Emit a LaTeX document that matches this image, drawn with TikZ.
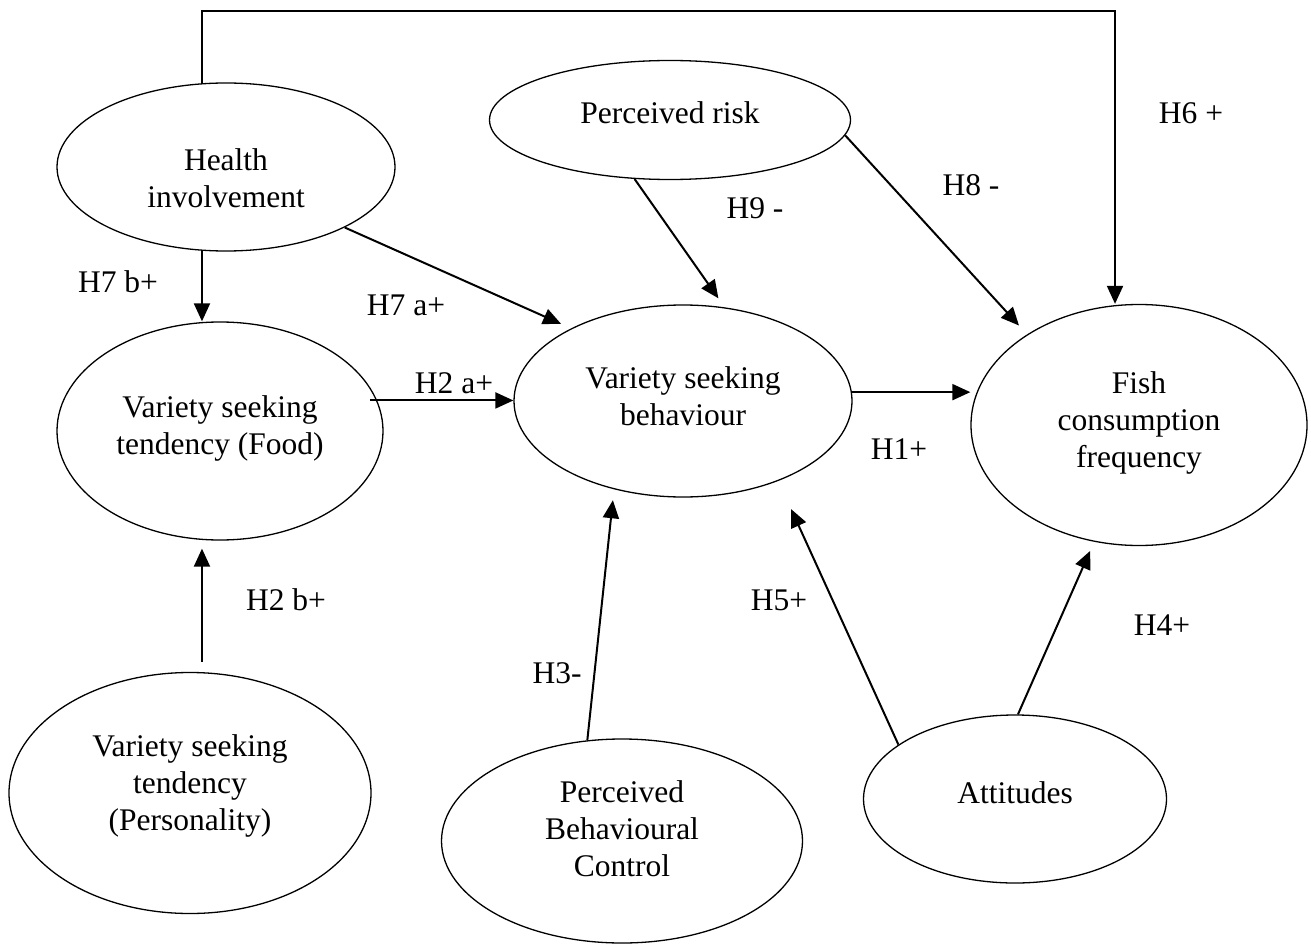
\documentclass[tikz,border=0pt]{standalone}
\usepackage{fontspec}
\setmainfont{Liberation Serif}
\usetikzlibrary{shapes.geometric,arrows.meta}

\begin{document}
\begin{tikzpicture}[
        x=1pt, y=-1pt,
        every node/.style={
            align=center,
            font=\fontsize{31.5}{37}\selectfont,
            inner sep=0pt
        },
        construct/.style 2 args={
            ellipse,
            draw,
            line width=1.3pt,
            minimum width=#1pt,
            minimum height=#2pt
        },
        arrow/.style={
            -{Triangle[length=18pt,width=16pt]},
            line width=2pt
        }
    ]
    \useasboundingbox (0,0) rectangle (1311,944);

    % Constructs
    \node (hi) [construct={338}{168}, label={[yshift=-11pt]center:Health\\involvement}] at (226,167) {};
    \node (pr) [construct={361}{119}, label={[yshift=7pt]center:Perceived risk}] at (670,120) {};
    \node (food) [construct={326}{218}, label={[yshift=3pt]center:Variety seeking\\tendency (Food)}] at (220,431) {};
    \node (vsb) [construct={338}{192}, label={[yshift=5pt]center:Variety seeking\\behaviour}] at (683,401) {};
    \node (fish) [construct={336}{241}, label={[yshift=2pt]center:Fish\\consumption\\frequency}] at (1139,425) {};
    \node (pers) [construct={362}{241}, label={[yshift=7pt]center:Variety seeking\\tendency\\(Personality)}] at (190,793) {};
    \node (pbc) [construct={361}{204}, label={[yshift=12pt]center:Perceived\\Behavioural\\Control}] at (622,841) {};
    \node (att) [construct={303}{168}, label={[yshift=6pt]center:Attitudes}] at (1015,799) {};

    % Hypothesis labels
    \node (h6) at (1191,113) {H6 +};
    \node (h8) at (971,185) {H8 -};
    \node (h9) at (755,208) {H9 -};
    \node (h7b) at (118,282) {H7 b+};
    \node (h7a) at (406,305) {H7 a+};
    \node (h2a) at (454,383) {H2 a+};
    \node (h1) at (899,449) {H1+};
    \node (h2b) at (286,600) {H2 b+};
    \node (h5) at (779,600) {H5+};
    \node (h4) at (1162,625) {H4+};
    \node (h3) at (557,673) {H3-};

    % Paths
    \coordinate (h6turn) at (1115,11);
    \draw[arrow] (hi.106) |- (h6turn) -- (fish.north -| h6turn);
    \draw[arrow] (hi.-106) -- (hi.-106 |- food.north);
    \draw[arrow, shorten >=11pt] (hi.-27) -- (vsb.147);
    \draw[arrow, shorten >=11pt] (pr.-121) -- (vsb.66);
    \draw[arrow, shorten >=12pt] (pr.-5) -- (fish.141);
    \draw[arrow, shorten <=-7pt] (food.11) -- (food.11 -| vsb.west);
    \draw[arrow] (vsb.3) -- (vsb.3 -| fish.west);
    \draw[arrow, shorten <=10pt, shorten >=8pt] (pers.north -| hi.-106) -- (food.south -| hi.-106);
    \draw[arrow, shorten >=11pt] (pbc.109) -- (vsb.-128);
    \draw[arrow, shorten >=31pt] (att.155) -- (vsb.-40);
    \draw[arrow, shorten >=10pt] (att.88) -- (fish.-111);

\end{tikzpicture}
\end{document}
